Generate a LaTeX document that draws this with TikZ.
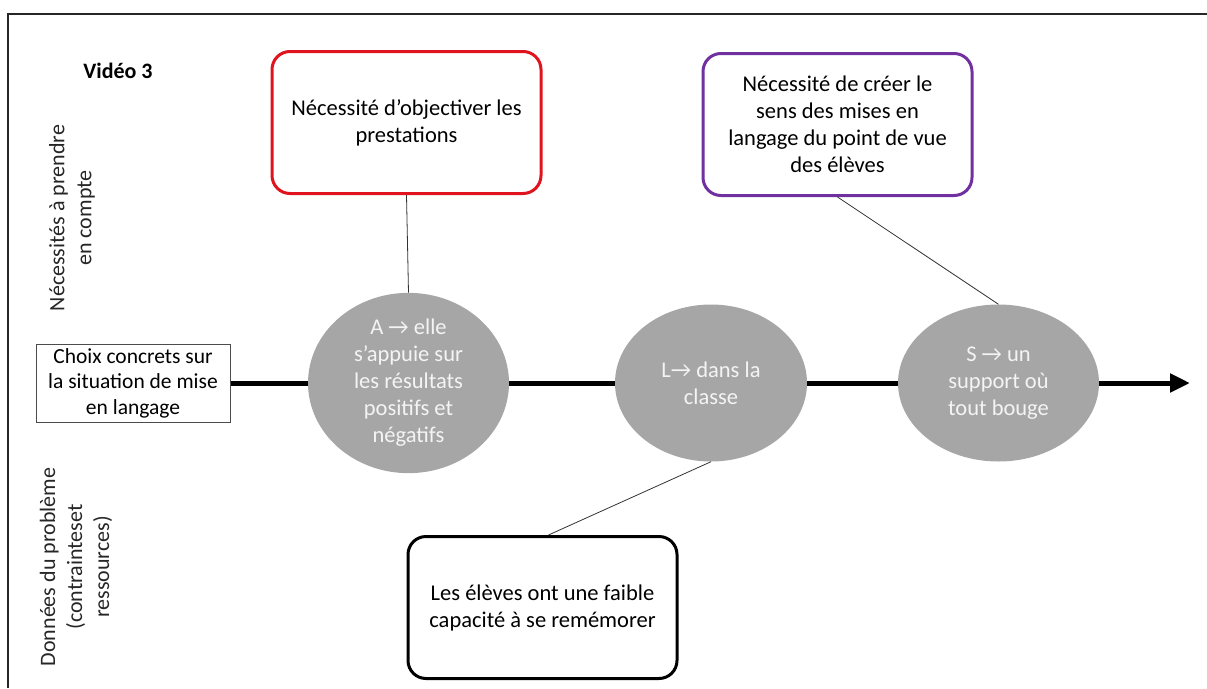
\documentclass[tikz,border=0pt]{standalone}
\usepackage{fontspec}
\setmainfont{Carlito}
\usetikzlibrary{shapes.geometric,arrows.meta}
\definecolor{redc}{HTML}{E0141E}
\definecolor{purplec}{HTML}{7030A0}
\definecolor{blobgray}{HTML}{A6A6A6}
\definecolor{blobtext}{HTML}{F4F4F4}
\begin{document}
\begin{tikzpicture}[x=1pt,y=-1pt,
  every node/.style={font=\fontsize{22.5}{27}\selectfont, align=center, inner sep=0pt},
  callout/.style={draw, rounded corners=18pt, line width=3pt, minimum width=269pt, minimum height=142pt},
  blob/.style={ellipse, fill=blobgray, text=blobtext, minimum height=157pt},
  link/.style={draw=black!80, line width=0.8pt},
  spine/.style={line width=5pt},
  sidelabel/.style={rotate=90, text=black!85, font=\fontsize{22}{27}\selectfont}
]
\useasboundingbox (0,0) rectangle (1207,688);
\draw[line width=2pt, black!85] (1207,14) -- (8,14) -- (8,688);

\node[font=\bfseries\fontsize{22}{26}\selectfont] (title) at (118,71) {Vidéo 3};
\node[sidelabel] (needlab) at (72,218) {Nécessités à prendre\\en compte};
\node[sidelabel] (datalab) at (76,567) {Données du problème\\(contrainteset\\ressources)};

\node[callout, draw=redc] (need1) at (406.5,122.5) {Nécessité d’objectiver les\\prestations};
\node[callout, draw=purplec] (need2) at (837.5,124.5) {Nécessité de créer le\\sens des mises en\\langage du point de vue\\des élèves};
\node[callout, draw=black] (data1) at (542.5,607.5) {Les élèves ont une faible\\capacité à se remémorer};

\node[draw=black!70, line width=1pt, minimum width=194pt, minimum height=78pt, font=\fontsize{21.5}{25.5}\selectfont] (choix) at (133,383) {Choix concrets sur\\la situation de mise\\en langage};

\node[blob, minimum width=201pt] (A) at (408.5,383) {A → elle\\s’appuie sur\\les résultats\\positifs et\\négatifs};
\node[blob, minimum width=192pt] (L) at (711,383) {L→ dans la\\classe};
\node[blob, minimum width=201pt] (S) at (998.5,383) {S → un\\support où\\tout bouge};
\coordinate (end) at (1190,383);

\draw[spine] (choix.east) -- (A.west);
\draw[spine] (A.east) -- (L.west);
\draw[spine] (L.east) -- (S.west);
\draw[spine, -{Triangle[length=20pt,width=18pt]}] (S.east) -- (end);

\draw[link] (need1.south) -- (A.north);
\draw[link] (need2.south) -- (S.north);
\draw[link] (data1.north) ++(6,0) -- (L.south);
\end{tikzpicture}
\end{document}
